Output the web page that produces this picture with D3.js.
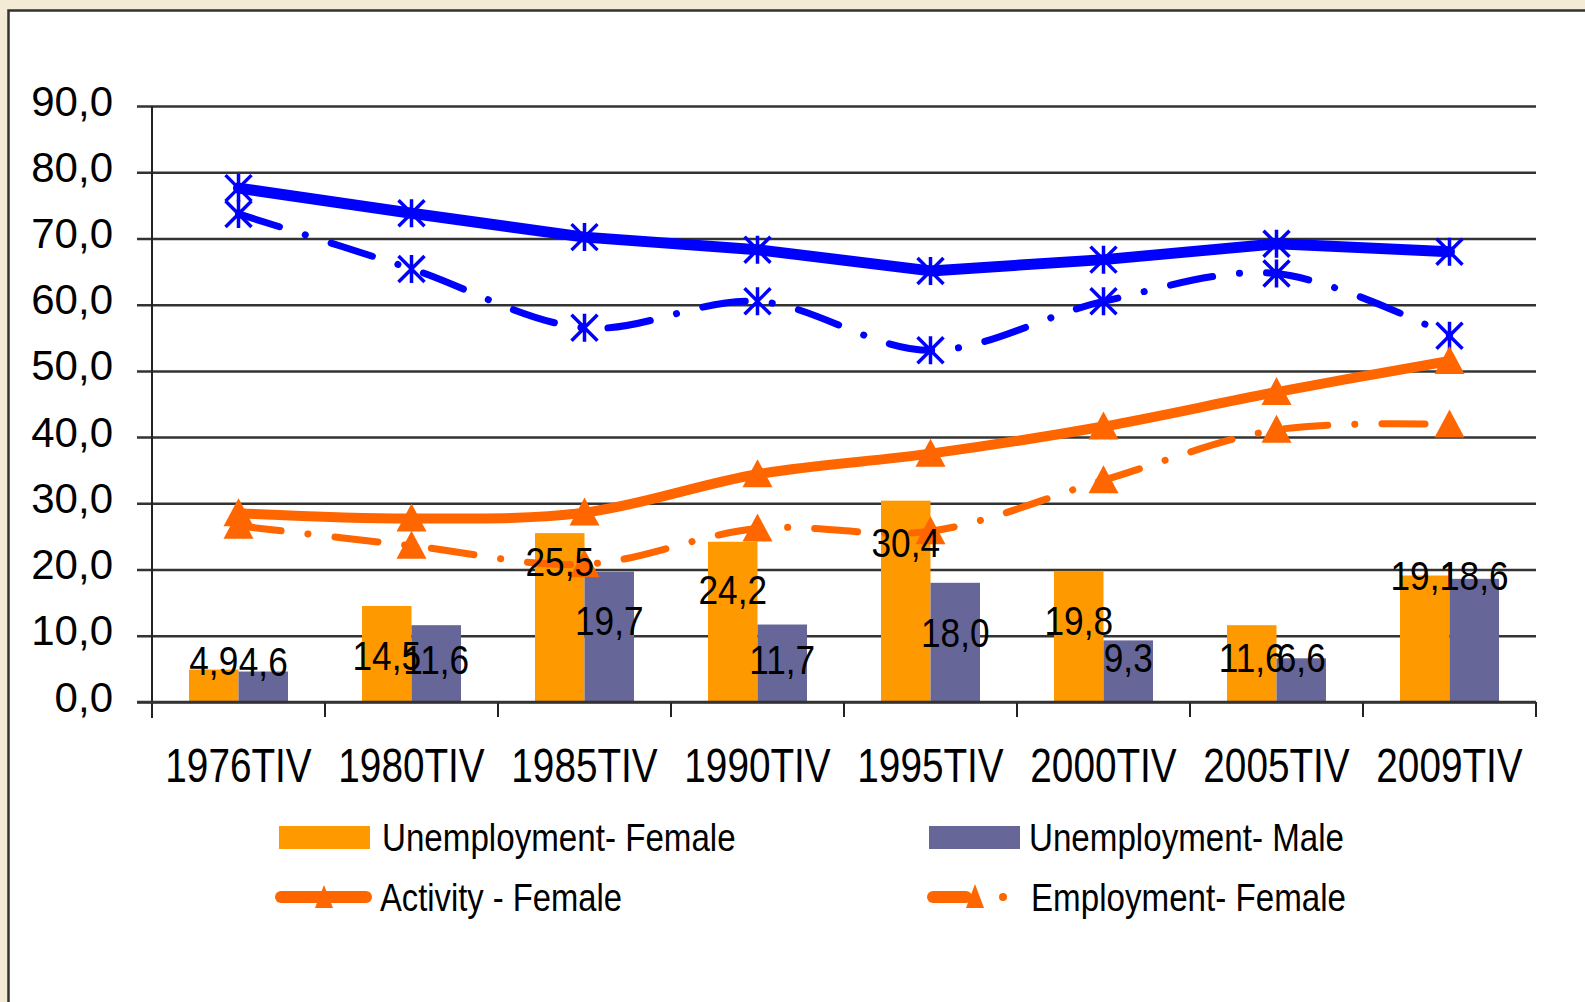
<!DOCTYPE html>
<html><head><meta charset="utf-8">
<script src="https://cdn.jsdelivr.net/npm/d3@7"></script>
<style>
body{margin:0;background:#F3EBD6;overflow:hidden}
text{font-family:"Liberation Sans",Arial,sans-serif;fill:#000}
</style>
</head><body>
<svg id="c" width="1585" height="1002"></svg>
<script>
// ---- data ----
const categories = ["1976TIV","1980TIV","1985TIV","1990TIV","1995TIV","2000TIV","2005TIV","2009TIV"];
const unemploymentFemale = [4.9,14.5,25.5,24.2,30.4,19.8,11.6,19.1];
const unemploymentMale   = [4.6,11.6,19.7,11.7,18.0,9.3,6.6,18.6];
const activityMale       = [77.6,73.8,70.2,68.3,65.1,66.8,69.2,68.0];
const employmentMale     = [73.7,65.4,56.5,60.5,53.1,60.5,64.7,55.3];
const activityFemale     = [28.5,27.7,28.6,34.4,37.5,41.6,46.8,51.5];
const employmentFemale   = [26.6,23.6,20.8,26.2,25.8,33.5,41.1,41.9];
const yTicks = [0,10,20,30,40,50,60,70,80,90];
const legendNames = ["Unemployment- Female","Unemployment- Male","Activity - Female","Employment- Female"];

// ---- layout (label nudges, px below bar top to baseline) ----
const labelDyF = [5,64,43,62,56,64,47,14];
const labelDyM = [4,49,63,49,64,32,14,11];

const svg = d3.select("#c");
svg.append("rect").attr("x",8.5).attr("y",10.5).attr("width",1650).attr("height",1100)
  .attr("fill","#fff").attr("stroke","#333").attr("stroke-width",2.5);

const L=152, R=1536, T=106, B=702;
const x = d3.scaleBand().domain(categories).range([L,R]);
const y = d3.scaleLinear().domain([0,90]).range([B,T]);
const x1 = d3.scaleBand().domain(["F","M"]).range([0,99]);
const off = (x.bandwidth()-99)/2;
const fmt = v => d3.format(".1f")(v).replace(".",",");
const cx = c => x(c)+x.bandwidth()/2;

// y axis + gridlines
const ya = svg.append("g").attr("transform",`translate(${L},0)`)
  .call(d3.axisLeft(y).tickValues(yTicks).tickFormat(fmt).tickSize(15));
ya.select(".domain").remove();
ya.selectAll(".tick line").attr("x1",-15).attr("x2",R-L).attr("stroke","#333").attr("stroke-width",2.5);
ya.selectAll(".tick text").attr("x",-39).attr("dy",null).attr("y",9)
  .style("font-size","42px").attr("fill","#000");
svg.append("line").attr("x1",L).attr("x2",L).attr("y1",T).attr("y2",B+16)
  .attr("stroke","#222").attr("stroke-width",2);

// x axis
const xa = svg.append("g").attr("transform",`translate(0,${B})`)
  .call(d3.axisBottom(x).tickSize(0));
xa.select(".domain").remove();
xa.selectAll(".tick text").attr("y",80).attr("dy",null)
  .style("font-size","49px").attr("transform","scale(0.79,1)").attr("fill","#000");
svg.append("g").selectAll("line").data(categories.concat([null])).join("line")
  .attr("x1",(d,i)=>i<categories.length?x(d):R).attr("x2",(d,i)=>i<categories.length?x(d):R)
  .attr("y1",B).attr("y2",B+15).attr("stroke","#222").attr("stroke-width",2);

// bars
const barG = svg.append("g");
categories.forEach((c,i)=>{
  [["F",unemploymentFemale[i],"#FF9900"],["M",unemploymentMale[i],"#666699"]].forEach(([k,v,col])=>{
    barG.append("rect").attr("x",x(c)+off+x1(k)).attr("width",x1.bandwidth())
      .attr("y",y(v)).attr("height",y(0)-y(v)).attr("fill",col);
  });
});
svg.append("line").attr("x1",L-15).attr("x2",R).attr("y1",B).attr("y2",B).attr("stroke","#333").attr("stroke-width",2.5);

// lines
const lineLin = d3.line().x((d,i)=>cx(categories[i])).y(d=>y(d));
const lineSm = d3.line().x((d,i)=>cx(categories[i])).y(d=>y(d)).curve(d3.curveCatmullRom.alpha(0.5));
const dashDot = "43,27,0.1,27";
function drawLine(data,gen,color,w,dash){
  svg.append("path").attr("d",gen(data)).attr("fill","none").attr("stroke",color)
    .attr("stroke-width",w).attr("stroke-linecap","round").attr("stroke-linejoin","round")
    .attr("stroke-dasharray",dash||null);
}
drawLine(employmentMale,lineSm,"#0000FF",7,dashDot);
drawLine(activityMale,lineLin,"#0000FF",11);
drawLine(employmentFemale,lineSm,"#FF6600",7,dashDot);
drawLine(activityFemale,lineSm,"#FF6600",10);

// markers
function stars(data){
  svg.append("g").selectAll("path").data(data).join("path")
    .attr("transform",(d,i)=>`translate(${cx(categories[i])},${y(d)})`)
    .attr("d","M0,-14L0,14M-13,-13L13,13M-13,13L13,-13")
    .attr("stroke","#0000FF").attr("stroke-width",3.5).attr("fill","none");
}
function tris(data){
  svg.append("g").selectAll("path").data(data).join("path")
    .attr("transform",(d,i)=>`translate(${cx(categories[i])},${y(d)})`)
    .attr("d","M0,-15L15,13L-15,13Z").attr("fill","#FF6600");
}
stars(employmentMale); stars(activityMale);
tris(employmentFemale); tris(activityFemale);

// data labels
const lab = svg.append("g");
function addLabel(px,py,v){
  lab.append("g").attr("transform",`translate(${px},${py}) scale(0.88,1)`)
    .append("text").attr("text-anchor","middle").style("font-size","40px").text(fmt(v));
}
categories.forEach((c,i)=>{
  addLabel(x(c)+off+x1("F")+x1.bandwidth()/2, y(unemploymentFemale[i])+labelDyF[i], unemploymentFemale[i]);
  addLabel(x(c)+off+x1("M")+x1.bandwidth()/2, y(unemploymentMale[i])+labelDyM[i], unemploymentMale[i]);
});

// legend
const lg = svg.append("g");
lg.append("rect").attr("x",279).attr("y",826).attr("width",91).attr("height",23).attr("fill","#FF9900");
lg.append("rect").attr("x",929).attr("y",826).attr("width",91).attr("height",23).attr("fill","#666699");
lg.append("line").attr("x1",281).attr("x2",366).attr("y1",897).attr("y2",897)
  .attr("stroke","#FF6600").attr("stroke-width",12).attr("stroke-linecap","round");
lg.append("path").attr("transform","translate(324,897)").attr("d","M0,-12L9,11L-9,11Z").attr("fill","#FF6600");
lg.append("line").attr("x1",933).attr("x2",966).attr("y1",897).attr("y2",897)
  .attr("stroke","#FF6600").attr("stroke-width",12).attr("stroke-linecap","round");
lg.append("path").attr("transform","translate(975,897)").attr("d","M0,-13L9,11L-9,11Z").attr("fill","#FF6600");
lg.append("circle").attr("cx",1003).attr("cy",897).attr("r",4).attr("fill","#FF6600");
[[382,851,0,0.85],[1029,851,1,0.85],[380,911,2,0.84],[1031,911,3,0.85]].forEach(([tx,ty,k,s])=>{
  lg.append("g").attr("transform",`translate(${tx},${ty}) scale(${s},1)`)
    .append("text").style("font-size","39px").text(legendNames[k]);
});
</script>
</body></html>
